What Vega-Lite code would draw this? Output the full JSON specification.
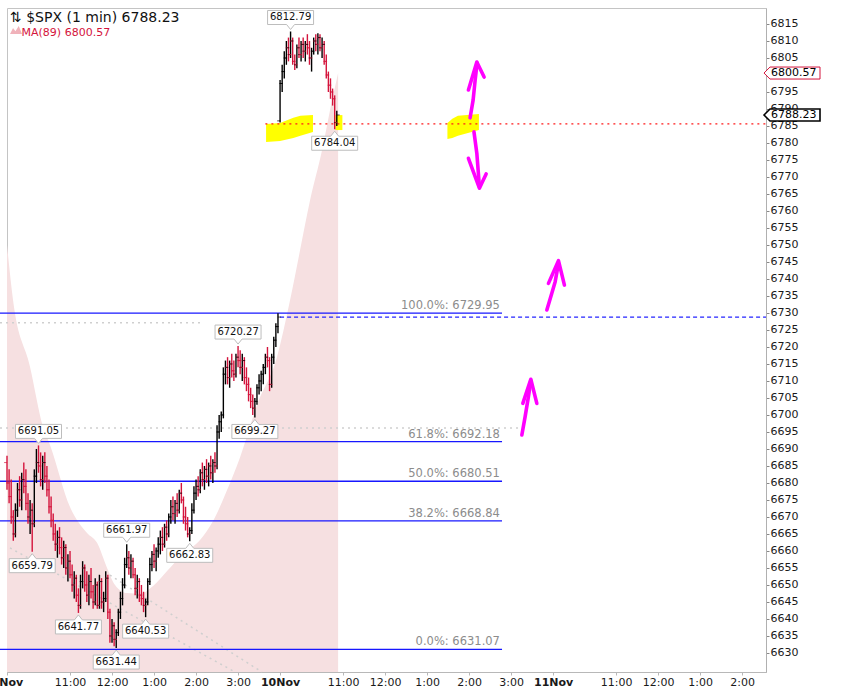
{
  "$schema": "https://vega.github.io/schema/vega-lite/v6.json",
  "description": "SPX 1 minute bars with MA(89), Fibonacci retracement and hand-drawn markup.",
  "width": 759,
  "height": 664,
  "autosize": {"type": "none"},
  "padding": {"left": 7, "top": 8, "right": 82, "bottom": 24},
  "title": {
    "text": "⇅ $SPX (1 min) 6788.23",
    "subtitle": "\u2800 MA(89) 6800.57",
    "anchor": "start",
    "frame": "group",
    "offset": -30,
    "dx": 3,
    "font": "DejaVu Sans",
    "fontSize": 14,
    "fontWeight": "normal",
    "color": "#111111",
    "subtitleFont": "DejaVu Sans",
    "subtitleFontSize": 11,
    "subtitleColor": "#d4143c",
    "subtitlePadding": 2
  },
  "datasets": {
    "ma": [
      {"t": 0, "ma": 6750.0}, {"t": 8.6, "ma": 6733.8}, {"t": 32.9, "ma": 6714.1},
      {"t": 51.4, "ma": 6696.5}, {"t": 61.4, "ma": 6691.2}, {"t": 90, "ma": 6672.9},
      {"t": 114.3, "ma": 6665.3}, {"t": 128.6, "ma": 6662.4}, {"t": 142.9, "ma": 6655.0},
      {"t": 154.3, "ma": 6650.0}, {"t": 171.4, "ma": 6647.6}, {"t": 190, "ma": 6647.4},
      {"t": 208.6, "ma": 6649.7}, {"t": 228.6, "ma": 6654.1}, {"t": 251.4, "ma": 6659.1},
      {"t": 275.7, "ma": 6663.2}, {"t": 294.3, "ma": 6668.8}, {"t": 314.3, "ma": 6677.9},
      {"t": 332.9, "ma": 6687.6}, {"t": 357.1, "ma": 6702.9}, {"t": 385.7, "ma": 6717.1},
      {"t": 404.3, "ma": 6733.8}, {"t": 418.6, "ma": 6748.5}, {"t": 432.9, "ma": 6763.2},
      {"t": 450, "ma": 6777.9}, {"t": 461.4, "ma": 6789.7}, {"t": 472.9, "ma": 6800.57}
    ],
    "lines": [
      {"k": "prev", "t1": 390, "t2": 1084, "p1": 6728.8, "p2": 6728.8},
      {"k": "red", "t1": 369, "t2": 1084, "p1": 6785.6, "p2": 6785.6},
      {"k": "gray", "t1": -10, "t2": 276, "p1": 6727.1, "p2": 6727.1},
      {"k": "gray", "t1": -10, "t2": 733, "p1": 6696.2, "p2": 6696.2},
      {"k": "gray", "t1": 4.3, "t2": 325.7, "p1": 6660.9, "p2": 6624.4},
      {"k": "gray", "t1": 147, "t2": 364, "p1": 6652.9, "p2": 6624.4}
    ],
    "fib": [
      {"p": 6729.95, "label": "100.0%: 6729.95"},
      {"p": 6692.18, "label": "61.8%: 6692.18"},
      {"p": 6680.51, "label": "50.0%: 6680.51"},
      {"p": 6668.84, "label": "38.2%: 6668.84"},
      {"p": 6631.07, "label": "0.0%: 6631.07"}
    ],
    "yellow": [
      {"s": "a", "t": 370, "top": 6785.6, "bot": 6780.3},
      {"s": "a", "t": 390, "top": 6785.9, "bot": 6780.6},
      {"s": "a", "t": 409, "top": 6787.4, "bot": 6781.5},
      {"s": "a", "t": 419, "top": 6788.0, "bot": 6782.1},
      {"s": "a", "t": 437, "top": 6788.2, "bot": 6783.2},
      {"s": "b", "t": 469, "top": 6788.2, "bot": 6783.8},
      {"s": "b", "t": 479, "top": 6788.2, "bot": 6783.8},
      {"s": "c", "t": 629, "top": 6785.9, "bot": 6781.2},
      {"s": "c", "t": 636, "top": 6787.1, "bot": 6781.5},
      {"s": "c", "t": 644, "top": 6788.0, "bot": 6782.1},
      {"s": "c", "t": 674, "top": 6788.5, "bot": 6783.8}
    ],
    "arrows": [
      {"s": 1, "o": 1, "t": 661.4, "p": 6787.4}, {"s": 1, "o": 2, "t": 665.7, "p": 6792.6},
      {"s": 1, "o": 3, "t": 668.6, "p": 6798.5}, {"s": 1, "o": 4, "t": 671.4, "p": 6803.5},
      {"s": 2, "o": 1, "t": 659, "p": 6795.6}, {"s": 2, "o": 2, "t": 671, "p": 6803.8},
      {"s": 2, "o": 3, "t": 681.4, "p": 6799.4},
      {"s": 3, "o": 1, "t": 666.9, "p": 6783.3}, {"s": 3, "o": 2, "t": 671, "p": 6777.0},
      {"s": 3, "o": 3, "t": 674.7, "p": 6767.1},
      {"s": 4, "o": 1, "t": 659, "p": 6775.5}, {"s": 4, "o": 2, "t": 674.7, "p": 6766.7},
      {"s": 4, "o": 3, "t": 684.3, "p": 6770.9},
      {"s": 5, "o": 1, "t": 771, "p": 6730.9}, {"s": 5, "o": 2, "t": 778.1, "p": 6735.8},
      {"s": 5, "o": 3, "t": 782.9, "p": 6739.2}, {"s": 5, "o": 4, "t": 787.6, "p": 6744.6},
      {"s": 6, "o": 1, "t": 773.3, "p": 6738.7}, {"s": 6, "o": 2, "t": 787.6, "p": 6745.4},
      {"s": 6, "o": 3, "t": 796.1, "p": 6738.2},
      {"s": 7, "o": 1, "t": 735.3, "p": 6694.1}, {"s": 7, "o": 2, "t": 740, "p": 6699.5},
      {"s": 7, "o": 3, "t": 744.7, "p": 6705.4}, {"s": 7, "o": 4, "t": 748.1, "p": 6710.1},
      {"s": 8, "o": 1, "t": 736.7, "p": 6703.4}, {"s": 8, "o": 2, "t": 748.1, "p": 6710.5},
      {"s": 8, "o": 3, "t": 756.7, "p": 6703.4}
    ],
    "pivots": [
      {"k": "hi", "t": 405, "p": 6812.79},
      {"k": "hi", "t": 45, "p": 6691.05},
      {"k": "hi", "t": 330, "p": 6720.27},
      {"k": "hi", "t": 171, "p": 6661.97},
      {"k": "lo", "t": 36, "p": 6659.79},
      {"k": "lo", "t": 102, "p": 6641.77},
      {"k": "lo", "t": 156, "p": 6631.44},
      {"k": "lo", "t": 198, "p": 6640.53},
      {"k": "lo", "t": 261, "p": 6662.83},
      {"k": "lo", "t": 354, "p": 6699.27},
      {"k": "lo", "t": 468, "p": 6784.04}
    ],
    "tags": [
      {"k": "ma", "t": 1084, "p": 6800.57},
      {"k": "last", "t": 1084, "p": 6788.23}
    ],
    "icon": [
      {"t": 12.9, "p": 6813.2}
    ],
    "bars": [
      {"t": 0, "o": 6686, "h": 6688, "l": 6678, "c": 6680},
      {"t": 3, "o": 6680, "h": 6684, "l": 6674, "c": 6676},
      {"t": 6, "o": 6676, "h": 6681, "l": 6668, "c": 6670},
      {"t": 9, "o": 6670, "h": 6672, "l": 6663, "c": 6665},
      {"t": 12, "o": 6665, "h": 6674, "l": 6664, "c": 6672},
      {"t": 15, "o": 6672, "h": 6680, "l": 6670, "c": 6678},
      {"t": 18, "o": 6678, "h": 6682, "l": 6673, "c": 6675},
      {"t": 21, "o": 6675, "h": 6683, "l": 6672, "c": 6681},
      {"t": 24, "o": 6681, "h": 6686, "l": 6677, "c": 6679},
      {"t": 27, "o": 6679, "h": 6684, "l": 6672, "c": 6674},
      {"t": 30, "o": 6674, "h": 6677, "l": 6668, "c": 6670},
      {"t": 33, "o": 6670, "h": 6675, "l": 6665, "c": 6672},
      {"t": 36, "o": 6672, "h": 6674, "l": 6659.79, "c": 6668},
      {"t": 39, "o": 6668, "h": 6684, "l": 6667, "c": 6682},
      {"t": 42, "o": 6682, "h": 6690, "l": 6680, "c": 6686},
      {"t": 45, "o": 6686, "h": 6691.05, "l": 6683, "c": 6685},
      {"t": 48, "o": 6685, "h": 6689, "l": 6679, "c": 6681},
      {"t": 51, "o": 6681, "h": 6688, "l": 6678, "c": 6686},
      {"t": 54, "o": 6686, "h": 6689, "l": 6680, "c": 6682},
      {"t": 57, "o": 6682, "h": 6685, "l": 6676, "c": 6678},
      {"t": 60, "o": 6678, "h": 6681, "l": 6671, "c": 6673},
      {"t": 63, "o": 6673, "h": 6676, "l": 6667, "c": 6669},
      {"t": 66, "o": 6669, "h": 6671, "l": 6663, "c": 6665},
      {"t": 69, "o": 6665, "h": 6668, "l": 6660, "c": 6662},
      {"t": 72, "o": 6662, "h": 6666, "l": 6658, "c": 6664},
      {"t": 75, "o": 6664, "h": 6667, "l": 6659, "c": 6661},
      {"t": 78, "o": 6661, "h": 6664, "l": 6656, "c": 6658},
      {"t": 81, "o": 6658, "h": 6663, "l": 6655, "c": 6661},
      {"t": 84, "o": 6661, "h": 6662, "l": 6653, "c": 6655},
      {"t": 87, "o": 6655, "h": 6659, "l": 6651, "c": 6657},
      {"t": 90, "o": 6657, "h": 6660, "l": 6652, "c": 6653},
      {"t": 93, "o": 6653, "h": 6656, "l": 6648, "c": 6650},
      {"t": 96, "o": 6650, "h": 6654, "l": 6646, "c": 6652},
      {"t": 99, "o": 6652, "h": 6653, "l": 6645, "c": 6647},
      {"t": 102, "o": 6647, "h": 6649, "l": 6641.77, "c": 6644},
      {"t": 105, "o": 6644, "h": 6653, "l": 6643, "c": 6651},
      {"t": 108, "o": 6651, "h": 6657, "l": 6649, "c": 6655},
      {"t": 111, "o": 6655, "h": 6656, "l": 6648, "c": 6650},
      {"t": 114, "o": 6650, "h": 6654, "l": 6645, "c": 6647},
      {"t": 117, "o": 6647, "h": 6653, "l": 6644, "c": 6651},
      {"t": 120, "o": 6651, "h": 6655, "l": 6646, "c": 6648},
      {"t": 123, "o": 6648, "h": 6650, "l": 6643, "c": 6645},
      {"t": 126, "o": 6645, "h": 6652, "l": 6644, "c": 6650},
      {"t": 129, "o": 6650, "h": 6651, "l": 6643, "c": 6644},
      {"t": 132, "o": 6644, "h": 6653, "l": 6643, "c": 6651},
      {"t": 135, "o": 6651, "h": 6652, "l": 6643, "c": 6645},
      {"t": 138, "o": 6645, "h": 6648, "l": 6642, "c": 6646},
      {"t": 141, "o": 6646, "h": 6654, "l": 6645, "c": 6652},
      {"t": 144, "o": 6652, "h": 6653, "l": 6640, "c": 6642},
      {"t": 147, "o": 6642, "h": 6643, "l": 6633, "c": 6635},
      {"t": 150, "o": 6635, "h": 6640, "l": 6633, "c": 6638},
      {"t": 153, "o": 6638, "h": 6639, "l": 6632, "c": 6634},
      {"t": 156, "o": 6634, "h": 6637, "l": 6631.44, "c": 6636},
      {"t": 159, "o": 6636, "h": 6643, "l": 6635, "c": 6642},
      {"t": 162, "o": 6642, "h": 6648, "l": 6640, "c": 6646},
      {"t": 165, "o": 6646, "h": 6652, "l": 6644, "c": 6650},
      {"t": 168, "o": 6650, "h": 6658, "l": 6649, "c": 6656},
      {"t": 171, "o": 6656, "h": 6661.97, "l": 6655, "c": 6658},
      {"t": 174, "o": 6658, "h": 6660, "l": 6653, "c": 6655},
      {"t": 177, "o": 6655, "h": 6659, "l": 6652, "c": 6657},
      {"t": 180, "o": 6657, "h": 6658, "l": 6652, "c": 6653},
      {"t": 183, "o": 6653, "h": 6655, "l": 6647, "c": 6649},
      {"t": 186, "o": 6649, "h": 6653, "l": 6646, "c": 6651},
      {"t": 189, "o": 6651, "h": 6652, "l": 6645, "c": 6647},
      {"t": 192, "o": 6647, "h": 6650, "l": 6644, "c": 6646},
      {"t": 195, "o": 6646, "h": 6648, "l": 6642, "c": 6644},
      {"t": 198, "o": 6644, "h": 6646, "l": 6640.53, "c": 6645},
      {"t": 201, "o": 6645, "h": 6652, "l": 6644, "c": 6651},
      {"t": 204, "o": 6651, "h": 6658, "l": 6650, "c": 6656},
      {"t": 207, "o": 6656, "h": 6660, "l": 6654, "c": 6659},
      {"t": 210, "o": 6659, "h": 6662, "l": 6655, "c": 6657},
      {"t": 213, "o": 6657, "h": 6661, "l": 6654, "c": 6660},
      {"t": 216, "o": 6660, "h": 6664, "l": 6658, "c": 6662},
      {"t": 219, "o": 6662, "h": 6666, "l": 6659, "c": 6664},
      {"t": 222, "o": 6664, "h": 6667, "l": 6660, "c": 6662},
      {"t": 225, "o": 6662, "h": 6668, "l": 6661, "c": 6667},
      {"t": 228, "o": 6667, "h": 6669, "l": 6663, "c": 6665},
      {"t": 231, "o": 6665, "h": 6671, "l": 6664, "c": 6670},
      {"t": 234, "o": 6670, "h": 6675, "l": 6668, "c": 6673},
      {"t": 237, "o": 6673, "h": 6676, "l": 6669, "c": 6671},
      {"t": 240, "o": 6671, "h": 6675, "l": 6668, "c": 6674},
      {"t": 243, "o": 6674, "h": 6677, "l": 6670, "c": 6672},
      {"t": 246, "o": 6672, "h": 6678, "l": 6671, "c": 6677},
      {"t": 249, "o": 6677, "h": 6680, "l": 6674, "c": 6675},
      {"t": 252, "o": 6675, "h": 6676, "l": 6668, "c": 6670},
      {"t": 255, "o": 6670, "h": 6673, "l": 6666, "c": 6668},
      {"t": 258, "o": 6668, "h": 6670, "l": 6664, "c": 6665},
      {"t": 261, "o": 6665, "h": 6667, "l": 6662.83, "c": 6666},
      {"t": 264, "o": 6666, "h": 6674, "l": 6665, "c": 6672},
      {"t": 267, "o": 6672, "h": 6679, "l": 6671, "c": 6677},
      {"t": 270, "o": 6677, "h": 6681, "l": 6675, "c": 6679},
      {"t": 273, "o": 6679, "h": 6682, "l": 6676, "c": 6678},
      {"t": 276, "o": 6678, "h": 6684, "l": 6677, "c": 6683},
      {"t": 279, "o": 6683, "h": 6686, "l": 6679, "c": 6681},
      {"t": 282, "o": 6681, "h": 6685, "l": 6678, "c": 6684},
      {"t": 285, "o": 6684, "h": 6687, "l": 6680, "c": 6682},
      {"t": 288, "o": 6682, "h": 6686, "l": 6679, "c": 6685},
      {"t": 291, "o": 6685, "h": 6688, "l": 6681, "c": 6683},
      {"t": 294, "o": 6683, "h": 6687, "l": 6680, "c": 6686},
      {"t": 297, "o": 6686, "h": 6689, "l": 6683, "c": 6685},
      {"t": 300, "o": 6685, "h": 6697, "l": 6684, "c": 6695},
      {"t": 303, "o": 6695, "h": 6700, "l": 6693, "c": 6698},
      {"t": 306, "o": 6698, "h": 6701, "l": 6695, "c": 6700},
      {"t": 309, "o": 6700, "h": 6714, "l": 6699, "c": 6712},
      {"t": 312, "o": 6712, "h": 6716, "l": 6709, "c": 6714},
      {"t": 315, "o": 6714, "h": 6717, "l": 6709, "c": 6711},
      {"t": 318, "o": 6711, "h": 6716, "l": 6708, "c": 6715},
      {"t": 321, "o": 6715, "h": 6718, "l": 6711, "c": 6713},
      {"t": 324, "o": 6713, "h": 6716, "l": 6710, "c": 6712},
      {"t": 327, "o": 6712, "h": 6718, "l": 6711, "c": 6717},
      {"t": 330, "o": 6717, "h": 6720.27, "l": 6714, "c": 6716},
      {"t": 333, "o": 6716, "h": 6719, "l": 6712, "c": 6714},
      {"t": 336, "o": 6714, "h": 6718, "l": 6710, "c": 6716},
      {"t": 339, "o": 6716, "h": 6717, "l": 6709, "c": 6711},
      {"t": 342, "o": 6711, "h": 6714, "l": 6707, "c": 6709},
      {"t": 345, "o": 6709, "h": 6711, "l": 6704, "c": 6706},
      {"t": 348, "o": 6706, "h": 6708, "l": 6702, "c": 6704},
      {"t": 351, "o": 6704, "h": 6706, "l": 6700, "c": 6702},
      {"t": 354, "o": 6702, "h": 6705, "l": 6699.27, "c": 6704},
      {"t": 357, "o": 6704, "h": 6709, "l": 6703, "c": 6708},
      {"t": 360, "o": 6708, "h": 6712, "l": 6706, "c": 6710},
      {"t": 363, "o": 6710, "h": 6713, "l": 6707, "c": 6712},
      {"t": 366, "o": 6712, "h": 6715, "l": 6709, "c": 6714},
      {"t": 369, "o": 6714, "h": 6718, "l": 6712, "c": 6717},
      {"t": 372, "o": 6717, "h": 6720, "l": 6714, "c": 6716},
      {"t": 375, "o": 6716, "h": 6717, "l": 6707, "c": 6709},
      {"t": 378, "o": 6709, "h": 6718, "l": 6708, "c": 6717},
      {"t": 381, "o": 6717, "h": 6723, "l": 6715, "c": 6722},
      {"t": 384, "o": 6722, "h": 6727, "l": 6720, "c": 6726},
      {"t": 387, "o": 6726, "h": 6729.95, "l": 6724, "c": 6728.8},
      {"t": 390, "o": 6786.5, "h": 6798.5, "l": 6786, "c": 6797.5},
      {"t": 393, "o": 6797.5, "h": 6803, "l": 6795, "c": 6801},
      {"t": 396, "o": 6801, "h": 6807, "l": 6799, "c": 6805},
      {"t": 399, "o": 6805, "h": 6810, "l": 6803, "c": 6808},
      {"t": 402, "o": 6808, "h": 6811, "l": 6804, "c": 6806},
      {"t": 405, "o": 6806, "h": 6812.79, "l": 6805, "c": 6810},
      {"t": 408, "o": 6810, "h": 6811, "l": 6803, "c": 6804},
      {"t": 411, "o": 6804, "h": 6806, "l": 6801.5, "c": 6803},
      {"t": 414, "o": 6803, "h": 6809, "l": 6802, "c": 6808},
      {"t": 417, "o": 6808, "h": 6811, "l": 6805, "c": 6806},
      {"t": 420, "o": 6806, "h": 6810, "l": 6804, "c": 6809},
      {"t": 423, "o": 6809, "h": 6811, "l": 6805, "c": 6807},
      {"t": 426, "o": 6807, "h": 6810, "l": 6804, "c": 6809},
      {"t": 429, "o": 6809, "h": 6812, "l": 6806, "c": 6808},
      {"t": 432, "o": 6808, "h": 6810, "l": 6803, "c": 6805},
      {"t": 435, "o": 6805, "h": 6808, "l": 6801, "c": 6807},
      {"t": 438, "o": 6807, "h": 6811, "l": 6806, "c": 6810},
      {"t": 441, "o": 6810, "h": 6812, "l": 6807, "c": 6809},
      {"t": 444, "o": 6809, "h": 6812.3, "l": 6806, "c": 6811},
      {"t": 447, "o": 6811, "h": 6812, "l": 6807, "c": 6808},
      {"t": 450, "o": 6808, "h": 6811, "l": 6805, "c": 6809},
      {"t": 453, "o": 6809, "h": 6810, "l": 6803, "c": 6804},
      {"t": 456, "o": 6804, "h": 6806, "l": 6799, "c": 6800},
      {"t": 459, "o": 6800, "h": 6801, "l": 6795, "c": 6797},
      {"t": 462, "o": 6797, "h": 6799, "l": 6793, "c": 6795},
      {"t": 465, "o": 6795, "h": 6796, "l": 6791, "c": 6793},
      {"t": 468, "o": 6793, "h": 6794, "l": 6784.04, "c": 6786},
      {"t": 471, "o": 6786, "h": 6789.5, "l": 6785, "c": 6788.23}
    ]
  },
  "layer": [
    {
      "data": {"name": "ma"},
      "mark": {"type": "area", "color": "#f6e0e1", "interpolate": "monotone"},
      "encoding": {
        "x": {
          "field": "t",
          "type": "quantitative",
          "scale": {"domain": [0, 1084], "nice": false, "zero": false},
          "axis": {
            "title": null,
            "grid": false,
            "values": [0, 90, 150, 210, 270, 330, 390, 480, 540, 600, 660, 720, 780, 870, 930, 990, 1050],
            "labelExpr": "datum.value % 390 == 0 ? ['7Nov', '10Nov', '11Nov'][datum.value / 390] : (floor((datum.value % 390 + 570) / 60) > 12 ? floor((datum.value % 390 + 570) / 60) - 12 : floor((datum.value % 390 + 570) / 60)) + ':00'",
            "labelFontWeight": {"condition": {"test": "datum.value % 390 == 0", "value": "bold"}, "value": "normal"},
            "labelFont": "DejaVu Sans",
            "labelFontSize": 11,
            "labelColor": "#1a1a1a",
            "labelPadding": 1,
            "labelFlush": false,
            "labelBound": false,
            "tickSize": 3,
            "tickColor": "#b8b8b8",
            "domainColor": "#b8b8b8"
          }
        },
        "y": {
          "field": "ma",
          "type": "quantitative",
          "scale": {"domain": [6624.4, 6819.7], "nice": false, "zero": false},
          "axis": {
            "orient": "right",
            "title": null,
            "grid": false,
            "values": [6630, 6635, 6640, 6645, 6650, 6655, 6660, 6665, 6670, 6675, 6680, 6685, 6690, 6695, 6700, 6705, 6710, 6715, 6720, 6725, 6730, 6735, 6740, 6745, 6750, 6755, 6760, 6765, 6770, 6775, 6780, 6785, 6790, 6795, 6800, 6805, 6810, 6815],
            "tickCount": 40,
            "format": "d",
            "labelFont": "DejaVu Sans",
            "labelFontSize": 11,
            "labelColor": "#1a1a1a",
            "labelPadding": 1,
            "tickSize": 3,
            "tickColor": "#888888",
            "domainColor": "#b0b0b0"
          }
        },
        "y2": {"datum": 6624.4}
      }
    },
    {
      "data": {"name": "lines"},
      "transform": [{"filter": "datum.k == 'gray'"}],
      "mark": {"type": "rule", "color": "#cfcfcf", "strokeWidth": 1.5, "strokeDash": [2, 4]},
      "encoding": {
        "x": {"field": "t1", "type": "quantitative"},
        "x2": {"field": "t2"},
        "y": {"field": "p1", "type": "quantitative", "axis": {"orient": "right", "tickCount": 40, "values": [6630, 6635, 6640, 6645, 6650, 6655, 6660, 6665, 6670, 6675, 6680, 6685, 6690, 6695, 6700, 6705, 6710, 6715, 6720, 6725, 6730, 6735, 6740, 6745, 6750, 6755, 6760, 6765, 6770, 6775, 6780, 6785, 6790, 6795, 6800, 6805, 6810, 6815]}},
        "y2": {"field": "p2"}
      }
    },
    {
      "data": {"name": "fib"},
      "mark": {"type": "rule", "color": "#1717ff", "strokeWidth": 1.3},
      "encoding": {
        "x": {"datum": -10, "type": "quantitative"},
        "x2": {"datum": 707},
        "y": {"field": "p", "type": "quantitative", "axis": {"orient": "right", "tickCount": 40, "values": [6630, 6635, 6640, 6645, 6650, 6655, 6660, 6665, 6670, 6675, 6680, 6685, 6690, 6695, 6700, 6705, 6710, 6715, 6720, 6725, 6730, 6735, 6740, 6745, 6750, 6755, 6760, 6765, 6770, 6775, 6780, 6785, 6790, 6795, 6800, 6805, 6810, 6815]}}
      }
    },
    {
      "data": {"name": "lines"},
      "transform": [{"filter": "datum.k == 'prev'"}],
      "mark": {"type": "rule", "color": "#2424ff", "strokeWidth": 1.3, "strokeDash": [4, 3]},
      "encoding": {
        "x": {"field": "t1", "type": "quantitative"},
        "x2": {"field": "t2"},
        "y": {"field": "p1", "type": "quantitative", "axis": {"orient": "right", "tickCount": 40, "values": [6630, 6635, 6640, 6645, 6650, 6655, 6660, 6665, 6670, 6675, 6680, 6685, 6690, 6695, 6700, 6705, 6710, 6715, 6720, 6725, 6730, 6735, 6740, 6745, 6750, 6755, 6760, 6765, 6770, 6775, 6780, 6785, 6790, 6795, 6800, 6805, 6810, 6815]}}
      }
    },
    {
      "data": {"name": "yellow"},
      "mark": {"type": "area", "color": "#ffff00", "opacity": 1},
      "encoding": {
        "x": {"field": "t", "type": "quantitative"},
        "y": {"field": "top", "type": "quantitative", "axis": {"orient": "right", "tickCount": 40, "values": [6630, 6635, 6640, 6645, 6650, 6655, 6660, 6665, 6670, 6675, 6680, 6685, 6690, 6695, 6700, 6705, 6710, 6715, 6720, 6725, 6730, 6735, 6740, 6745, 6750, 6755, 6760, 6765, 6770, 6775, 6780, 6785, 6790, 6795, 6800, 6805, 6810, 6815]}},
        "y2": {"field": "bot"},
        "detail": {"field": "s"}
      }
    },
    {
      "data": {"name": "lines"},
      "transform": [{"filter": "datum.k == 'red'"}],
      "mark": {"type": "rule", "color": "#ff1a1a", "strokeWidth": 1.3, "strokeDash": [2, 4]},
      "encoding": {
        "x": {"field": "t1", "type": "quantitative"},
        "x2": {"field": "t2"},
        "y": {"field": "p1", "type": "quantitative", "axis": {"orient": "right", "tickCount": 40, "values": [6630, 6635, 6640, 6645, 6650, 6655, 6660, 6665, 6670, 6675, 6680, 6685, 6690, 6695, 6700, 6705, 6710, 6715, 6720, 6725, 6730, 6735, 6740, 6745, 6750, 6755, 6760, 6765, 6770, 6775, 6780, 6785, 6790, 6795, 6800, 6805, 6810, 6815]}}
      }
    },
    {
      "data": {"name": "bars"},
      "mark": {"type": "rule", "strokeWidth": 1.4},
      "encoding": {
        "x": {"field": "t", "type": "quantitative"},
        "y": {"field": "l", "type": "quantitative", "axis": {"orient": "right", "tickCount": 40, "values": [6630, 6635, 6640, 6645, 6650, 6655, 6660, 6665, 6670, 6675, 6680, 6685, 6690, 6695, 6700, 6705, 6710, 6715, 6720, 6725, 6730, 6735, 6740, 6745, 6750, 6755, 6760, 6765, 6770, 6775, 6780, 6785, 6790, 6795, 6800, 6805, 6810, 6815]}},
        "y2": {"field": "h"},
        "color": {"condition": {"test": "datum.c < datum.o", "value": "#d4143c"}, "value": "#000000"}
      }
    },
    {
      "data": {"name": "bars"},
      "mark": {"type": "tick", "orient": "horizontal", "size": 3, "thickness": 1, "xOffset": -1.4},
      "encoding": {
        "x": {"field": "t", "type": "quantitative"},
        "y": {"field": "o", "type": "quantitative", "axis": {"orient": "right", "tickCount": 40, "values": [6630, 6635, 6640, 6645, 6650, 6655, 6660, 6665, 6670, 6675, 6680, 6685, 6690, 6695, 6700, 6705, 6710, 6715, 6720, 6725, 6730, 6735, 6740, 6745, 6750, 6755, 6760, 6765, 6770, 6775, 6780, 6785, 6790, 6795, 6800, 6805, 6810, 6815]}},
        "color": {"condition": {"test": "datum.c < datum.o", "value": "#d4143c"}, "value": "#000000"}
      }
    },
    {
      "data": {"name": "bars"},
      "mark": {"type": "tick", "orient": "horizontal", "size": 3, "thickness": 1, "xOffset": 1.4},
      "encoding": {
        "x": {"field": "t", "type": "quantitative"},
        "y": {"field": "c", "type": "quantitative", "axis": {"orient": "right", "tickCount": 40, "values": [6630, 6635, 6640, 6645, 6650, 6655, 6660, 6665, 6670, 6675, 6680, 6685, 6690, 6695, 6700, 6705, 6710, 6715, 6720, 6725, 6730, 6735, 6740, 6745, 6750, 6755, 6760, 6765, 6770, 6775, 6780, 6785, 6790, 6795, 6800, 6805, 6810, 6815]}},
        "color": {"condition": {"test": "datum.c < datum.o", "value": "#d4143c"}, "value": "#000000"}
      }
    },
    {
      "data": {"name": "fib"},
      "mark": {"type": "text", "align": "right", "baseline": "bottom", "dy": -2, "font": "DejaVu Sans", "fontSize": 11.5, "color": "#8c8c8c"},
      "encoding": {
        "x": {"datum": 704, "type": "quantitative"},
        "y": {"field": "p", "type": "quantitative", "axis": {"orient": "right", "tickCount": 40, "values": [6630, 6635, 6640, 6645, 6650, 6655, 6660, 6665, 6670, 6675, 6680, 6685, 6690, 6695, 6700, 6705, 6710, 6715, 6720, 6725, 6730, 6735, 6740, 6745, 6750, 6755, 6760, 6765, 6770, 6775, 6780, 6785, 6790, 6795, 6800, 6805, 6810, 6815]}},
        "text": {"field": "label"}
      }
    },
    {
      "data": {"name": "arrows"},
      "mark": {"type": "line", "color": "#ff00ff", "strokeWidth": 3.6, "strokeCap": "round", "strokeJoin": "round"},
      "encoding": {
        "x": {"field": "t", "type": "quantitative"},
        "y": {"field": "p", "type": "quantitative", "axis": {"orient": "right", "tickCount": 40, "values": [6630, 6635, 6640, 6645, 6650, 6655, 6660, 6665, 6670, 6675, 6680, 6685, 6690, 6695, 6700, 6705, 6710, 6715, 6720, 6725, 6730, 6735, 6740, 6745, 6750, 6755, 6760, 6765, 6770, 6775, 6780, 6785, 6790, 6795, 6800, 6805, 6810, 6815]}},
        "detail": {"field": "s"},
        "order": {"field": "o"}
      }
    },
    {
      "data": {"name": "pivots"},
      "transform": [{"filter": "datum.k == 'lo'"}],
      "mark": {"type": "point", "shape": "M0,0.087L0.174,0.304H1V0.913H-1V0.304H-0.174Z", "size": 2116, "fill": "#ffffff", "stroke": "#bdbdbd", "strokeWidth": 1, "opacity": 1},
      "encoding": {
        "x": {"field": "t", "type": "quantitative"},
        "y": {"field": "p", "type": "quantitative", "axis": {"orient": "right", "tickCount": 40, "values": [6630, 6635, 6640, 6645, 6650, 6655, 6660, 6665, 6670, 6675, 6680, 6685, 6690, 6695, 6700, 6705, 6710, 6715, 6720, 6725, 6730, 6735, 6740, 6745, 6750, 6755, 6760, 6765, 6770, 6775, 6780, 6785, 6790, 6795, 6800, 6805, 6810, 6815]}}
      }
    },
    {
      "data": {"name": "pivots"},
      "transform": [{"filter": "datum.k == 'hi'"}],
      "mark": {"type": "point", "shape": "M0,-0.087L0.174,-0.304H1V-0.913H-1V-0.304H-0.174Z", "size": 2116, "fill": "#ffffff", "stroke": "#bdbdbd", "strokeWidth": 1, "opacity": 1},
      "encoding": {
        "x": {"field": "t", "type": "quantitative"},
        "y": {"field": "p", "type": "quantitative", "axis": {"orient": "right", "tickCount": 40, "values": [6630, 6635, 6640, 6645, 6650, 6655, 6660, 6665, 6670, 6675, 6680, 6685, 6690, 6695, 6700, 6705, 6710, 6715, 6720, 6725, 6730, 6735, 6740, 6745, 6750, 6755, 6760, 6765, 6770, 6775, 6780, 6785, 6790, 6795, 6800, 6805, 6810, 6815]}}
      }
    },
    {
      "data": {"name": "pivots"},
      "transform": [{"filter": "datum.k == 'lo'"}],
      "mark": {"type": "text", "dy": 14, "baseline": "middle", "font": "DejaVu Sans", "fontSize": 10, "color": "#111111"},
      "encoding": {
        "x": {"field": "t", "type": "quantitative"},
        "y": {"field": "p", "type": "quantitative", "axis": {"orient": "right", "tickCount": 40, "values": [6630, 6635, 6640, 6645, 6650, 6655, 6660, 6665, 6670, 6675, 6680, 6685, 6690, 6695, 6700, 6705, 6710, 6715, 6720, 6725, 6730, 6735, 6740, 6745, 6750, 6755, 6760, 6765, 6770, 6775, 6780, 6785, 6790, 6795, 6800, 6805, 6810, 6815]}},
        "text": {"field": "p", "format": ".2f"}
      }
    },
    {
      "data": {"name": "pivots"},
      "transform": [{"filter": "datum.k == 'hi'"}],
      "mark": {"type": "text", "dy": -14, "baseline": "middle", "font": "DejaVu Sans", "fontSize": 10, "color": "#111111"},
      "encoding": {
        "x": {"field": "t", "type": "quantitative"},
        "y": {"field": "p", "type": "quantitative", "axis": {"orient": "right", "tickCount": 40, "values": [6630, 6635, 6640, 6645, 6650, 6655, 6660, 6665, 6670, 6675, 6680, 6685, 6690, 6695, 6700, 6705, 6710, 6715, 6720, 6725, 6730, 6735, 6740, 6745, 6750, 6755, 6760, 6765, 6770, 6775, 6780, 6785, 6790, 6795, 6800, 6805, 6810, 6815]}},
        "text": {"field": "p", "format": ".2f"}
      }
    },
    {
      "data": {"name": "tags"},
      "mark": {"type": "point", "shape": "M-0.074,0L0.148,-0.222H2V0.222H0.148Z", "size": 2916, "fill": "#ffffff", "opacity": 1},
      "encoding": {
        "x": {"field": "t", "type": "quantitative"},
        "y": {"field": "p", "type": "quantitative", "axis": {"orient": "right", "tickCount": 40, "values": [6630, 6635, 6640, 6645, 6650, 6655, 6660, 6665, 6670, 6675, 6680, 6685, 6690, 6695, 6700, 6705, 6710, 6715, 6720, 6725, 6730, 6735, 6740, 6745, 6750, 6755, 6760, 6765, 6770, 6775, 6780, 6785, 6790, 6795, 6800, 6805, 6810, 6815]}},
        "stroke": {"condition": {"test": "datum.k == 'ma'", "value": "#d4143c"}, "value": "#000000"},
        "strokeWidth": {"condition": {"test": "datum.k == 'ma'", "value": 1}, "value": 1.6}
      }
    },
    {
      "data": {"name": "tags"},
      "mark": {"type": "text", "align": "left", "baseline": "middle", "dx": 5, "font": "DejaVu Sans", "fontSize": 11, "color": "#000000"},
      "encoding": {
        "x": {"field": "t", "type": "quantitative"},
        "y": {"field": "p", "type": "quantitative", "axis": {"orient": "right", "tickCount": 40, "values": [6630, 6635, 6640, 6645, 6650, 6655, 6660, 6665, 6670, 6675, 6680, 6685, 6690, 6695, 6700, 6705, 6710, 6715, 6720, 6725, 6730, 6735, 6740, 6745, 6750, 6755, 6760, 6765, 6770, 6775, 6780, 6785, 6790, 6795, 6800, 6805, 6810, 6815]}},
        "text": {"field": "p", "format": ".2f"},
        "fontWeight": {"condition": {"test": "datum.k == 'last'", "value": "bold"}, "value": "normal"}
      }
    },
    {
      "data": {"name": "icon"},
      "mark": {"type": "point", "shape": "M-1,0.67L-0.5,-0.33L-0.1,0.2L0.45,-0.67L1,0.67Z", "size": 144, "filled": true, "fill": "#f0b2ba", "strokeWidth": 0, "opacity": 1},
      "encoding": {
        "x": {"field": "t", "type": "quantitative"},
        "y": {"field": "p", "type": "quantitative", "axis": {"orient": "right", "tickCount": 40, "values": [6630, 6635, 6640, 6645, 6650, 6655, 6660, 6665, 6670, 6675, 6680, 6685, 6690, 6695, 6700, 6705, 6710, 6715, 6720, 6725, 6730, 6735, 6740, 6745, 6750, 6755, 6760, 6765, 6770, 6775, 6780, 6785, 6790, 6795, 6800, 6805, 6810, 6815]}}
      }
    }
  ],
  "config": {
    "view": {"stroke": "#c4c4c4"},
    "font": "DejaVu Sans",
    "axis": {"labelOverlap": false, "labelSeparation": 0}
  }
}
